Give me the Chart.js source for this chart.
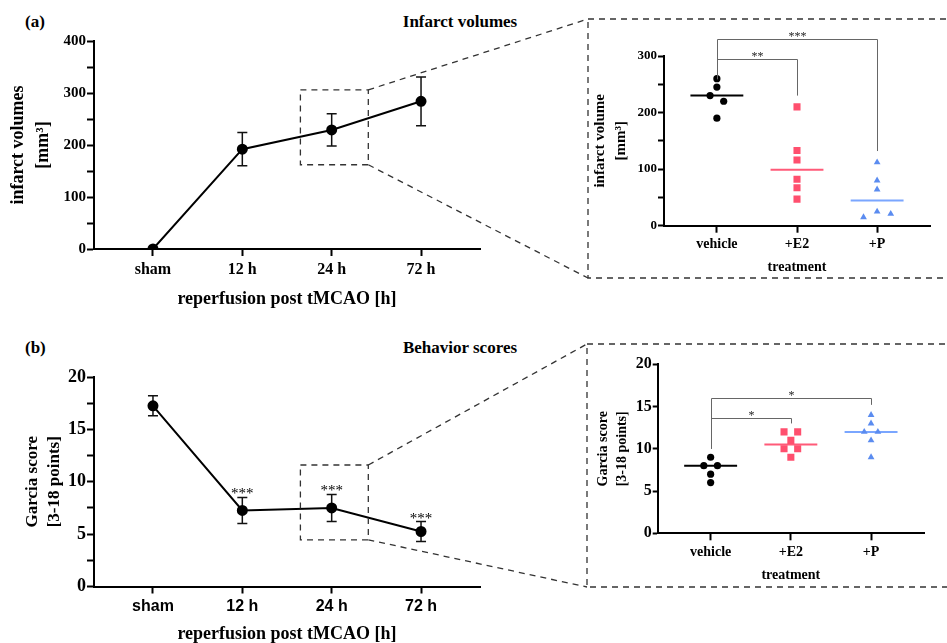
<!DOCTYPE html>
<html>
<head>
<meta charset="utf-8">
<script src="https://cdn.jsdelivr.net/npm/chart.js@4.4.1/dist/chart.umd.min.js"></script>
<style>
  body { margin: 0; background: #fff; }
  #page { position: relative; width: 947px; height: 643px; overflow: hidden; font-family: "Liberation Serif", serif; }
  canvas { position: absolute; }
  .lbl { position: absolute; font-weight: bold; font-size: 17px; line-height: 20px; white-space: nowrap; color: #000; }
</style>
</head>
<body>
<div id="page">
  <div class="lbl" style="left:25px; top:12px">(a)</div>
  <div class="lbl" style="left:360px; width:200px; text-align:center; top:12px">Infarct volumes</div>
  <div class="lbl" style="left:25px; top:338px">(b)</div>
  <div class="lbl" style="left:360px; width:200px; text-align:center; top:338px">Behavior scores</div>

  <canvas id="infarctTime" width="500" height="320" style="left:0; top:0"></canvas>
  <canvas id="garciaTime" width="500" height="323" style="left:0; top:320px"></canvas>
  <canvas id="infarctTreat" width="359" height="260" style="left:588px; top:20px"></canvas>
  <canvas id="garciaTreat" width="359" height="243" style="left:588px; top:345px"></canvas>
  <canvas id="overlay" width="947" height="643" style="left:0; top:0; pointer-events:none"></canvas>
</div>

<script>
// time course (left panels)
const timePoints = ['sham', '12 h', '24 h', '72 h'];
const infarctMean = [0, 192, 229, 284];
const infarctSD = [0, 32, 31, 47];
const garciaMean = [17.25, 7.26, 7.5, 5.25];
const garciaSD = [0.95, 1.24, 1.29, 0.95];
const garciaSig = ['', '***', '***', '***'];

// 24 h treatment groups (insets)
const groups = ['vehicle', '+E2', '+P'];
const infVehicle = [260, 245, 230, 220, 190];
const infE2 = [210, 133, 116, 82, 67, 47];
const infP = [112, 80, 64, 15, 25, 21];
const garVehicle = [9, 8, 8, 7, 6];
const garE2 = [12, 12, 11, 10, 10, 9];
const garP = [14, 13, 12, 12, 11, 9];

// significance brackets: [group from, group to, level, end from, end to, label]
const bracketsInfarct = [[0, 1, 294, 259, 230, '**'], [0, 2, 330, 259, 132, '***']];
const bracketsGarcia = [[0, 1, 13.7, 10, 13, '*'], [0, 2, 16, 10, 15.2, '*']];

// zoomed region on the time course: [x from, x to, y from, y to]
const zoomInfarct = [1.65, 2.41, 162, 306];
const zoomGarcia = [1.65, 2.41, 4.46, 11.6];

const groupColors = ['#000000', '#ff4f6e', '#5b8cf0'];
const medianColors = ['#000000', '#ff5a78', '#7aa6ff'];
const groupShapes = ['circle', 'rect', 'triangle'];
const groupRadius = [3.6, 5, 3.9];

Chart.defaults.animation = false;
Chart.defaults.color = '#000';
Chart.defaults.font.family = 'Liberation Serif';

const serif = (size, lh) => ({ family: 'Liberation Serif', size: size, weight: 'bold', lineHeight: lh || 1.2 });
const sans = (size) => ({ family: 'Liberation Sans', size: size, weight: 'bold' });

function median(vals) {
    const s = vals.slice().sort((a, b) => a - b);
    const m = Math.floor(s.length / 2);
    return s.length % 2 ? s[m] : (s[m - 1] + s[m]) / 2;
}

// points that sit at (almost) the same height are spread sideways, like a column scatter
function swarm(vals, thr, step) {
    const out = [];
    let row = [];
    const flush = () => {
        row.forEach((v, k) => out.push({ off: (k - (row.length - 1) / 2) * step, y: v }));
        row = [];
    };
    vals.forEach(v => {
        if (row.length && Math.abs(v - row[row.length - 1]) >= thr) flush();
        row.push(v);
    });
    flush();
    return out;
}

function xAxis(labels, min, max, tickFont, tickPad, title, titleFont, titlePad, height) {
    return {
        type: 'linear', min: min, max: max,
        afterBuildTicks: s => { s.ticks = labels.map((_, i) => ({ value: i })); },
        afterFit: s => { s.height = height; },
        ticks: { callback: v => labels[v], font: tickFont, color: '#000', padding: tickPad, maxRotation: 0, autoSkip: false },
        grid: { drawOnChartArea: false, drawTicks: true, tickLength: 7, tickWidth: 2, tickColor: '#000' },
        border: { display: true, color: '#000', width: 2 },
        title: { display: true, text: title, font: titleFont, color: '#000', padding: titlePad }
    };
}

function yAxis(max, step, labelEvery, tickFont, tickLen, title, titleFont, titlePad, width) {
    return {
        type: 'linear', min: 0, max: max,
        afterBuildTicks: s => {
            const t = [];
            for (let v = 0; v <= max + 1e-9; v += step) t.push({ value: v });
            s.ticks = t;
        },
        afterFit: s => { s.width = width; },
        ticks: { callback: v => (Math.abs(v / labelEvery - Math.round(v / labelEvery)) < 1e-6 ? v : ''), font: tickFont, color: '#000', padding: 1 },
        grid: { drawOnChartArea: false, drawTicks: true, tickLength: tickLen, tickWidth: 2, tickColor: '#000' },
        border: { display: true, color: '#000', width: 2 },
        title: { display: true, text: title, font: titleFont, color: '#000', padding: titlePad }
    };
}

function errorBars(mean, sd, stars) {
    return {
        id: 'errorBars',
        beforeDatasetsDraw(chart) {
            const { ctx, scales: { x, y } } = chart;
            ctx.save();
            ctx.strokeStyle = '#111';
            ctx.lineWidth = 1.5;
            mean.forEach((m, i) => {
                if (!sd[i]) return;
                const px = x.getPixelForValue(i);
                const top = y.getPixelForValue(m + sd[i]);
                const bot = y.getPixelForValue(m - sd[i]);
                ctx.beginPath();
                ctx.moveTo(px, top); ctx.lineTo(px, bot);
                ctx.moveTo(px - 5, top); ctx.lineTo(px + 5, top);
                ctx.moveTo(px - 5, bot); ctx.lineTo(px + 5, bot);
                ctx.stroke();
            });
            ctx.restore();
        },
        afterDraw(chart) {
            if (!stars) return;
            const { ctx, scales: { x, y } } = chart;
            ctx.save();
            ctx.fillStyle = '#000';
            ctx.font = '15px "Liberation Serif"';
            ctx.textAlign = 'center';
            ctx.textBaseline = 'alphabetic';
            stars.forEach((s, i) => {
                if (!s) return;
                ctx.fillText(s, x.getPixelForValue(i), y.getPixelForValue(mean[i] + sd[i]) + 1);
            });
            ctx.restore();
        }
    };
}

function brackets(list) {
    return {
        id: 'brackets',
        afterDraw(chart) {
            const { ctx, scales: { x, y } } = chart;
            ctx.save();
            ctx.strokeStyle = '#666';
            ctx.lineWidth = 1;
            ctx.fillStyle = '#222';
            ctx.font = '12px "Liberation Serif"';
            ctx.textAlign = 'center';
            ctx.textBaseline = 'alphabetic';
            list.forEach(([g0, g1, level, end0, end1, label]) => {
                const x0 = Math.round(x.getPixelForValue(g0)) + 0.5;
                const x1 = Math.round(x.getPixelForValue(g1)) + 0.5;
                const yl = Math.round(y.getPixelForValue(level)) + 0.5;
                ctx.beginPath();
                ctx.moveTo(x0, y.getPixelForValue(end0));
                ctx.lineTo(x0, yl);
                ctx.lineTo(x1, yl);
                ctx.lineTo(x1, y.getPixelForValue(end1));
                ctx.stroke();
                ctx.fillText(label, (x0 + x1) / 2, yl);
            });
            ctx.restore();
        }
    };
}

function timeChart(id, mean, sd, stars, pad, xOpts, yOpts) {
    return new Chart(document.getElementById(id), {
        type: 'scatter',
        data: {
            datasets: [{
                data: mean.map((m, i) => ({ x: i, y: m })),
                showLine: true,
                borderColor: '#000',
                borderWidth: 2,
                backgroundColor: '#000',
                pointRadius: 4.5,
                pointHoverRadius: 4.5
            }]
        },
        options: {
            responsive: false,
            layout: { padding: pad },
            plugins: { legend: { display: false }, tooltip: { enabled: false } },
            scales: { x: xOpts, y: yOpts }
        },
        plugins: [errorBars(mean, sd, stars)]
    });
}

function treatChart(id, series, thr, pad, xOpts, yOpts, bracketList) {
    const datasets = [];
    series.forEach((vals, g) => {
        datasets.push({
            data: swarm(vals, thr, 0.17).map(p => ({ x: g + p.off, y: p.y })),
            pointStyle: groupShapes[g],
            pointRadius: groupRadius[g],
            pointHoverRadius: groupRadius[g],
            backgroundColor: groupColors[g],
            borderColor: groupColors[g],
            borderWidth: 0
        });
        const med = median(vals);
        datasets.push({
            data: [{ x: g - 0.33, y: med }, { x: g + 0.33, y: med }],
            showLine: true,
            pointRadius: 0,
            borderColor: medianColors[g],
            borderWidth: 2
        });
    });
    return new Chart(document.getElementById(id), {
        type: 'scatter',
        data: { datasets: datasets },
        options: {
            responsive: false,
            layout: { padding: pad },
            plugins: { legend: { display: false }, tooltip: { enabled: false } },
            scales: { x: xOpts, y: yOpts }
        },
        plugins: [brackets(bracketList)]
    });
}

const chartA = timeChart('infarctTime', infarctMean, infarctSD, null,
    { top: 41, right: 20, left: 0, bottom: 0 },
    xAxis(timePoints, -0.66, 3.66, serif(16), 4, 'reperfusion post tMCAO [h]', serif(18), { top: 0, bottom: 10 }, 71),
    yAxis(400, 50, 100, serif(15), 7, ['infarct volumes', '[mm³]'], serif(18, 25 / 18), { top: 5.5, bottom: 0 }, 94));

const chartB = timeChart('garciaTime', garciaMean, garciaSD, garciaSig,
    { top: 57, right: 20, left: 0, bottom: 0 },
    xAxis(timePoints, -0.66, 3.66, sans(16), 3, 'reperfusion post tMCAO [h]', serif(18, 1), { top: 0, bottom: 0 }, 56.5),
    yAxis(20, 2.5, 5, serif(18), 7, ['Garcia score', '[3-18 points]'], serif(17, 22 / 17), { top: 22, bottom: 0 }, 94));

treatChart('infarctTreat', [infVehicle, infE2, infP], 12,
    { top: 36, right: 17, left: 0, bottom: 0 },
    xAxis(groups, -0.66, 2.66, serif(14), 3, 'treatment', serif(14), { top: 0, bottom: 4.6 }, 54.3),
    yAxis(300, 50, 100, serif(13), 6, ['infarct volume', '[mm³]'], serif(15, 1.4), { top: 1.5, bottom: 0 }, 76),
    bracketsInfarct);

treatChart('garciaTreat', [garVehicle, garE2, garP], 0.9,
    { top: 19.3, right: 23, left: 0, bottom: 0 },
    xAxis(groups, -0.66, 2.66, serif(14), 4, 'treatment', serif(14), { top: 0, bottom: 4.6 }, 54.7),
    yAxis(20, 2.5, 5, serif(16), 5, ['Garcia score', '[3-18 points]'], serif(14, 19 / 14), { top: 5.5, bottom: 0 }, 69.7),
    bracketsGarcia);

// dashed zoom boxes, inset frames and connecting lines
const insetFrames = [
    { x: 588, y: 19, w: 400, h: 259 },
    { x: 587, y: 344, w: 400, h: 243 }
];

function drawOverlay() {
    const cv = document.getElementById('overlay');
    const ctx = cv.getContext('2d');
    ctx.strokeStyle = '#333';
    ctx.lineWidth = 1.3;
    ctx.setLineDash([6, 5]);
    [[chartA, zoomInfarct, insetFrames[0]], [chartB, zoomGarcia, insetFrames[1]]].forEach(([chart, z, f]) => {
        const el = chart.canvas;
        const px = v => el.offsetLeft + chart.scales.x.getPixelForValue(v);
        const py = v => el.offsetTop + chart.scales.y.getPixelForValue(v);
        const x0 = px(z[0]), x1 = px(z[1]), yTop = py(z[3]), yBot = py(z[2]);
        ctx.strokeRect(x0, yTop, x1 - x0, yBot - yTop);
        ctx.strokeRect(f.x, f.y, f.w, f.h);
        ctx.beginPath();
        ctx.moveTo(x1, yTop); ctx.lineTo(f.x, f.y);
        ctx.moveTo(x1, yBot); ctx.lineTo(f.x, f.y + f.h);
        ctx.stroke();
    });
}
drawOverlay();
</script>
</body>
</html>
